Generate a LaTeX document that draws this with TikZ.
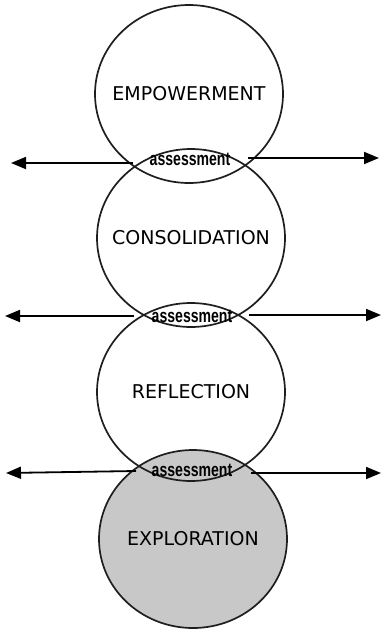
\documentclass[tikz,border=0pt]{standalone}
\usepackage{fontspec}
\setmainfont{DejaVu Sans}
\newfontfamily\tagfont{Liberation Sans}
\usetikzlibrary{shapes.geometric,arrows.meta}
\definecolor{ink}{RGB}{30,30,30}
\definecolor{shade}{RGB}{200,200,200}
\tikzset{
  stage/.style={ellipse, minimum width=188pt, minimum height=178pt, inner sep=0pt},
  outline/.style={draw=ink, line width=1.7pt},
  stagename/.style={inner sep=0pt, font=\fontsize{19}{19}\selectfont, text=black},
  tag/.style={inner sep=0pt, font=\tagfont\bfseries\fontsize{19}{19}\selectfont},
  arr/.style={draw=black, line width=1.8pt, -{Triangle[length=15pt,width=12pt]}}
}
\newcommand{\squeeze}[1]{\scalebox{0.74}[1]{#1}}
\begin{document}
\begin{tikzpicture}[x=1pt,y=-1pt]
\useasboundingbox (0,0) rectangle (381,632);
% the four stages, the lowest one shaded
\node[stage, fill=shade, outline] (c4) at (193,539) {};
\node[stage, outline] (c3) at (191,392) {};
\node[stage, outline] (c2) at (191,238) {};
\node[stage, outline] (c1) at (189,94) {};
% stage names
\node[stagename] (n1) at (c1) {EMPOWERMENT};
\node[stagename] (n2) at (c2) {CONSOLIDATION};
\node[stagename] (n3) at (c3) {REFLECTION};
\node[stagename] (n4) at (c4) {EXPLORATION};
% assessment labels in the overlaps
\node[tag] (a1) at (190,159) {\squeeze{assessment}};
\node[tag] (a2) at (192,316) {\squeeze{assessment}};
\node[tag] (a3) at (192,470) {\squeeze{assessment}};
% arrow ends
\coordinate (l1s) at (133,163); \coordinate (l1e) at (11,163);
\coordinate (r1s) at (248,158); \coordinate (r1e) at (379,158);
\coordinate (l2s) at (134,316); \coordinate (l2e) at (5,316);
\coordinate (r2s) at (249,315); \coordinate (r2e) at (381,315);
\coordinate (l3s) at (136,471); \coordinate (l3e) at (6,473);
\coordinate (r3s) at (251,473); \coordinate (r3e) at (381,473);
\draw[arr] (l1s) -- (l1e);
\draw[arr] (r1s) -- (r1e);
\draw[arr] (l2s) -- (l2e);
\draw[arr] (r2s) -- (r2e);
\draw[arr] (l3s) -- (l3e);
\draw[arr] (r3s) -- (r3e);
\end{tikzpicture}
\end{document}
